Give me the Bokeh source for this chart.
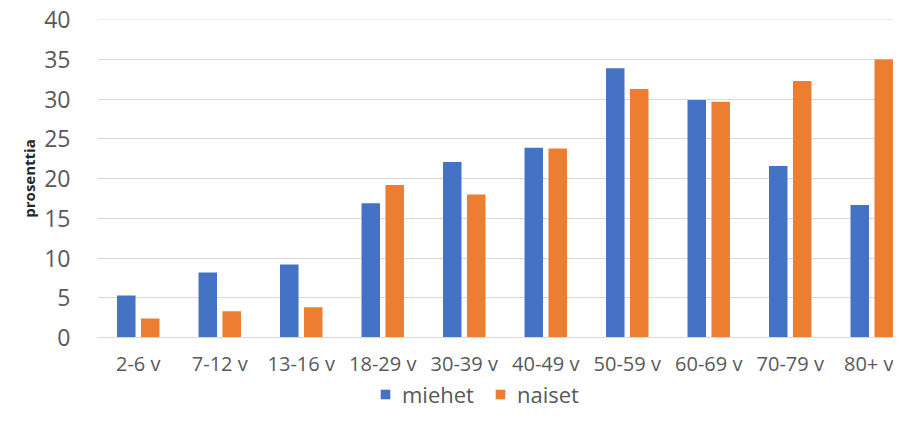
from bokeh.plotting import figure
from bokeh.layouts import column
from bokeh.models import Range1d, FixedTicker, Legend, LegendItem, ColumnDataSource
from bokeh.transform import dodge
from bokeh.embed import file_html
from bokeh.resources import INLINE

categories = ["2-6 v", "7-12 v", "13-16 v", "18-29 v", "30-39 v",
              "40-49 v", "50-59 v", "60-69 v", "70-79 v", "80+ v"]
miehet = [5.3, 8.2, 9.2, 16.9, 22.1, 23.9, 33.9, 29.9, 21.6, 16.7]
naiset = [2.4, 3.3, 3.8, 19.2, 18.0, 23.8, 31.3, 29.7, 32.3, 35.0]
y_ticks = [0, 5, 10, 15, 20, 25, 30, 35, 40]

idx = list(range(len(categories)))
src = ColumnDataSource(dict(x=idx, miehet=miehet, naiset=naiset))

FONT = "Open Sans"
BLUE = "#4472C4"
ORANGE = "#ED7D31"
GRAY = "#595959"

p = figure(width=893, height=379, output_backend="svg", toolbar_location=None,
           x_range=Range1d(-0.5, 9.267), y_range=Range1d(0, 40.05),
           min_border_left=97, min_border_right=0, min_border_top=19,
           min_border_bottom=41)
p.outline_line_color = None
p.background_fill_color = "white"
p.border_fill_color = "white"

p.vbar(x=dodge("x", -0.147, range=p.x_range), top="miehet", width=0.227,
       source=src, fill_color=BLUE, line_color=None)
p.vbar(x=dodge("x", 0.147, range=p.x_range), top="naiset", width=0.227,
       source=src, fill_color=ORANGE, line_color=None)

p.xgrid.grid_line_color = None
p.ygrid.grid_line_color = "#D9D9D9"
p.ygrid.grid_line_width = 1

p.xaxis.ticker = FixedTicker(ticks=idx)
p.xaxis.major_label_overrides = {i: c for i, c in enumerate(categories)}
p.yaxis.ticker = FixedTicker(ticks=y_ticks)

for ax in (p.xaxis[0], p.yaxis[0]):
    ax.major_tick_line_color = None
    ax.minor_tick_line_color = None
    ax.major_label_text_font = FONT
    ax.major_label_text_color = GRAY
p.xaxis.axis_line_color = "#D9D9D9"
p.yaxis.axis_line_color = None
p.xaxis.major_label_text_font_size = "20px"
p.yaxis.major_label_text_font_size = "23px"
p.xaxis.major_label_standoff = 6
p.yaxis.major_label_standoff = 21

p.yaxis.axis_label = "prosenttia"
p.yaxis.axis_label_text_font = FONT
p.yaxis.axis_label_text_font_size = "15px"
p.yaxis.axis_label_text_font_style = "bold"
p.yaxis.axis_label_text_color = "#262626"
p.yaxis.axis_label_standoff = 2

# legend strip: same series, drawn out of view so only the legend shows
lg = figure(width=893, height=30, output_backend="svg", toolbar_location=None,
            x_range=Range1d(-0.5, 9.267), y_range=Range1d(1000, 1001),
            min_border_left=0, min_border_right=0, min_border_top=0,
            min_border_bottom=0)
lg.axis.visible = False
lg.grid.visible = False
lg.outline_line_color = None
lg.background_fill_color = "white"
lg.border_fill_color = "white"
l1 = lg.vbar(x="x", top="miehet", width=0.227, source=src,
             fill_color=BLUE, line_color=None)
l2 = lg.vbar(x="x", top="naiset", width=0.227, source=src,
             fill_color=ORANGE, line_color=None)

legend = Legend(items=[LegendItem(label="miehet", renderers=[l1]),
                       LegendItem(label="naiset", renderers=[l2])],
                orientation="horizontal", location=(282, 0),
                padding=0, margin=0, spacing=20, label_standoff=11,
                glyph_width=12, glyph_height=12,
                label_text_font=FONT, label_text_font_size="22px",
                label_text_color=GRAY, border_line_color=None,
                background_fill_alpha=0)
lg.add_layout(legend)

layout = column(p, lg, spacing=0)
open("out.html", "w").write(file_html(layout, INLINE))
